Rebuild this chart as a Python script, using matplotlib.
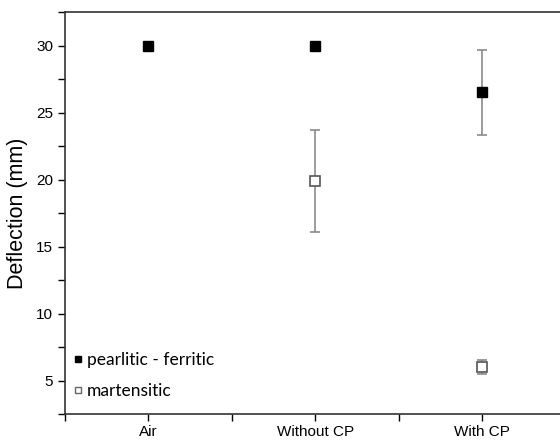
import matplotlib.pyplot as plt
from matplotlib.ticker import MultipleLocator

plt.rcParams['font.family'] = ['Liberation Sans', 'DejaVu Sans']

conditions = ["Air", "Without CP", "With CP"]

# pearlitic - ferritic
pf_x = [0, 1, 2]
pf_y = [30.0, 30.0, 26.5]
pf_err = [0.0, 0.0, 3.2]

# martensitic
m_x = [1, 2]
m_y = [19.9, 6.0]
m_err = [3.8, 0.5]

W, H = 560, 441
fig = plt.figure(figsize=(W / 100, H / 100), dpi=100)
ax = fig.add_axes([65 / W, 27 / H, 500.5 / W, 402 / H])

ax.errorbar(pf_x[2:], pf_y[2:], yerr=pf_err[2:], fmt='none', ecolor='#8a8a8a',
            elinewidth=1.2, capsize=3.5, capthick=1.2, zorder=2)
ax.errorbar(m_x, m_y, yerr=m_err, fmt='none', ecolor='#8a8a8a',
            elinewidth=1.2, capsize=3.5, capthick=1.2, zorder=2)

ax.plot(pf_x, pf_y, 's', color='black', markersize=7, linestyle='none', zorder=3)
ax.plot(m_x, m_y, 's', markerfacecolor='white', markeredgecolor='#555555',
        markeredgewidth=1.2, markersize=7, linestyle='none', zorder=3)

ax.set_xlim(-0.5, 2.5)
ax.set_ylim(2.5, 32.5)
ax.set_xticks(pf_x)
ax.set_xticklabels(conditions, fontsize=10.5)
ax.xaxis.set_minor_locator(MultipleLocator(0.5))
ax.yaxis.set_major_locator(MultipleLocator(5))
ax.yaxis.set_minor_locator(MultipleLocator(2.5))
ax.tick_params(axis='both', which='both', direction='out', length=5, width=1,
               labelsize=11, top=False, right=False)
ax.tick_params(axis='x', pad=3)
for s in ax.spines.values():
    s.set_linewidth(1.2)
    s.set_color('#333333')

ax.set_ylabel("Deflection (mm)", fontsize=15.5, labelpad=6)

# legend
leg_font = ['Lato', 'DejaVu Sans']
ax.plot([-0.42], [6.6], 's', color='black', markersize=4)
ax.text(-0.37, 6.55, "pearlitic - ferritic", fontsize=12.5, va='center',
        ha='left', family=leg_font)
ax.plot([-0.42], [4.3], 's', markerfacecolor='white', markeredgecolor='#666666',
        markersize=5, markeredgewidth=1)
ax.text(-0.37, 4.25, "martensitic", fontsize=12.5, va='center', ha='left',
        family=leg_font)

fig.savefig("out.png", dpi=100)
